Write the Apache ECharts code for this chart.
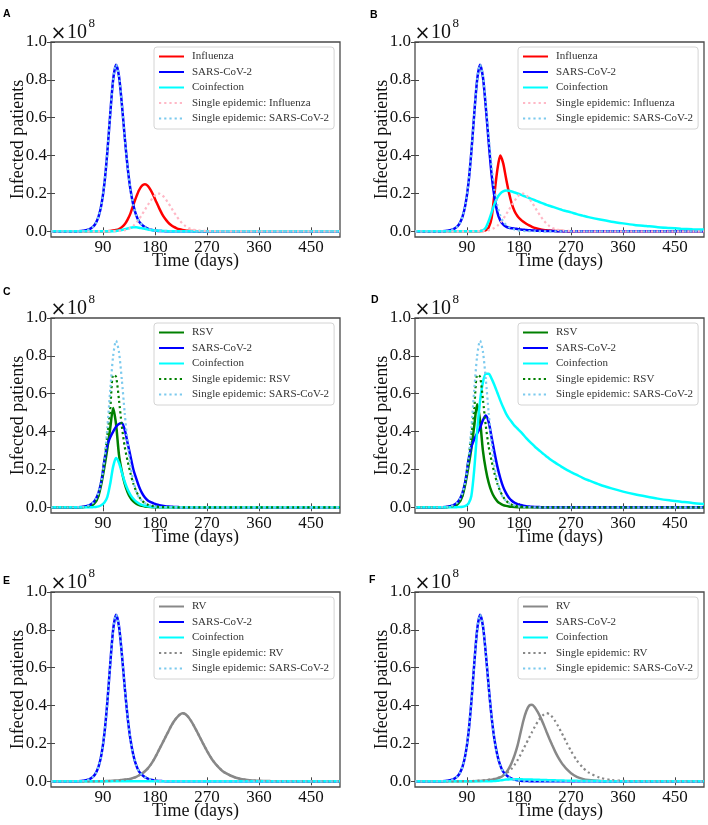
<!DOCTYPE html>
<html>
<head>
<meta charset="utf-8">
<script src="https://cdn.jsdelivr.net/npm/echarts@6/dist/echarts.min.js"></script>
<style>
html,body{margin:0;padding:0;background:#ffffff;}
#c{width:708px;height:825px;}
</style>
</head>
<body>
<div id="c"></div>
<script>
// ---- time grid (days) ----
const days = [0, 10, 20, 30, 40,
  47.5, 52.5, 57.5, 62.5, 67.5, 72.5, 77.5, 82.5, 87.5, 92.5,
  97.5, 102.5, 107.5, 112.5, 117.5, 122.5,
  127.5, 132.5, 137.5, 142.5, 147.5, 152.5, 157.5, 162.5, 167.5, 172.5,
  177.5, 182.5, 187.5, 192.5, 197.5, 202.5, 207.5, 212.5, 217.5, 222.5,
  227.5, 232.5, 237.5, 242.5, 247.5, 252.5, 257.5, 262.5,
  270, 280, 290, 300,
  320, 340, 360, 380, 400, 420, 440, 460, 480, 500];

const xTicks = [90, 180, 270, 360, 450];
const yTicks = [0, 0.2, 0.4, 0.6, 0.8, 1.0];
const panelLetters = ['A', 'B', 'C', 'D', 'E', 'F'];

// ---- series values (x 10^8 infected patients) ----
const sarsSingle = [0, 0, 0.0001, 0.0002, 0.0005,
  0.001, 0.002, 0.004, 0.007, 0.013, 0.023, 0.043, 0.08, 0.145, 0.255,
  0.42, 0.62, 0.80, 0.88, 0.822, 0.675,
  0.499, 0.341, 0.22, 0.1375, 0.084, 0.051, 0.034, 0.022, 0.014, 0.009,
  0.0055, 0.0035, 0.002, 0.0013, 0.0008, 0.0005, 0.0003, 0.0002, 0.0001, 0,
  0, 0, 0, 0, 0, 0, 0, 0,
  0, 0, 0, 0,
  0, 0, 0, 0, 0, 0, 0, 0, 0, 0];

const fluA = [0, 0, 0, 0, 0,
  0, 0, 0, 0, 0, 0, 0, 0, 0, 0.0005,
  0.001, 0.002, 0.004, 0.007, 0.012, 0.022,
  0.037, 0.062, 0.095, 0.14, 0.182, 0.218, 0.241, 0.248, 0.24, 0.218,
  0.188, 0.153, 0.12, 0.09, 0.066, 0.047, 0.033, 0.023, 0.016, 0.011,
  0.0075, 0.005, 0.0034, 0.0023, 0.0015, 0.001, 0.0007, 0.0005,
  0.0003, 0.0001, 0, 0,
  0, 0, 0, 0, 0, 0, 0, 0, 0, 0];

const coinfA = [0, 0, 0, 0, 0,
  0, 0, 0, 0, 0, 0, 0, 0, 0, 0,
  0, 0.0005, 0.001, 0.002, 0.004, 0.007,
  0.011, 0.015, 0.019, 0.021, 0.021, 0.019, 0.016, 0.013, 0.01, 0.0075,
  0.0055, 0.004, 0.003, 0.002, 0.0015, 0.001, 0.0008, 0.0006, 0.0004, 0.0003,
  0.0002, 0.0001, 0, 0, 0, 0, 0, 0,
  0, 0, 0, 0,
  0, 0, 0, 0, 0, 0, 0, 0, 0, 0];

const fluSingle = [0, 0, 0, 0, 0,
  0, 0, 0, 0, 0, 0, 0, 0, 0, 0,
  0.0002, 0.0004, 0.0008, 0.0013, 0.002, 0.0035,
  0.006, 0.011, 0.018, 0.029, 0.045, 0.065, 0.089, 0.114, 0.139, 0.162,
  0.182, 0.198, 0.199, 0.19, 0.174, 0.152, 0.127, 0.102, 0.079, 0.058,
  0.041, 0.028, 0.018, 0.012, 0.008, 0.0055, 0.0037, 0.0025,
  0.0014, 0.0006, 0.0002, 0.0001,
  0, 0, 0, 0, 0, 0, 0, 0, 0, 0];

const fluB = [0, 0, 0, 0, 0,
  0, 0, 0, 0, 0, 0, 0, 0, 0, 0,
  0, 0.0003, 0.0005, 0.001, 0.002, 0.006,
  0.02, 0.07, 0.2, 0.325, 0.4, 0.36, 0.28, 0.205, 0.145, 0.105,
  0.08, 0.063, 0.05, 0.04, 0.031, 0.024, 0.018, 0.014, 0.01, 0.0075,
  0.0055, 0.004, 0.003, 0.0022, 0.0016, 0.0012, 0.0009, 0.0007,
  0.0004, 0.0002, 0.0001, 0,
  0, 0, 0, 0, 0, 0, 0, 0, 0, 0];

const sarsB = [0, 0, 0.0001, 0.0002, 0.0005,
  0.001, 0.002, 0.004, 0.007, 0.013, 0.023, 0.043, 0.08, 0.145, 0.255,
  0.42, 0.62, 0.80, 0.88, 0.815, 0.655,
  0.47, 0.30, 0.18, 0.10, 0.058, 0.036, 0.025, 0.019, 0.016, 0.014,
  0.012, 0.01, 0.0085, 0.007, 0.006, 0.005, 0.004, 0.0033, 0.0027, 0.0022,
  0.0018, 0.0015, 0.0012, 0.001, 0.0008, 0.0007, 0.0006, 0.0005,
  0.0004, 0.0003, 0.0002, 0.0001,
  0, 0, 0, 0, 0, 0, 0, 0, 0, 0];

const coinfB = [0, 0, 0, 0, 0,
  0, 0, 0, 0, 0, 0, 0, 0, 0, 0,
  0, 0, 0, 0.001, 0.005, 0.02,
  0.055, 0.1, 0.145, 0.178, 0.199, 0.211, 0.215, 0.214, 0.21, 0.205,
  0.2, 0.194, 0.188, 0.182, 0.176, 0.17, 0.164, 0.158, 0.152, 0.146,
  0.14, 0.135, 0.13, 0.125, 0.12, 0.115, 0.11, 0.106,
  0.1, 0.091, 0.083, 0.075,
  0.062, 0.051, 0.042, 0.034, 0.028, 0.022, 0.018, 0.014, 0.011, 0.009];

const rsvC = [0, 0, 0, 0.0001, 0.0002,
  0.0005, 0.001, 0.002, 0.004, 0.008, 0.014, 0.03, 0.065, 0.13, 0.215,
  0.31, 0.42, 0.525, 0.44, 0.28, 0.19,
  0.125, 0.08, 0.05, 0.031, 0.019, 0.012, 0.0075, 0.0045, 0.0028, 0.0017,
  0.001, 0.0006, 0.0004, 0.0002, 0.0001, 0, 0, 0, 0, 0,
  0, 0, 0, 0, 0, 0, 0, 0,
  0, 0, 0, 0,
  0, 0, 0, 0, 0, 0, 0, 0, 0, 0];

const sarsC = [0, 0, 0.0001, 0.0002, 0.0005,
  0.001, 0.002, 0.004, 0.007, 0.013, 0.023, 0.043, 0.08, 0.145, 0.25,
  0.33, 0.37, 0.40, 0.425, 0.44, 0.445,
  0.41, 0.34, 0.27, 0.2, 0.152, 0.108, 0.075, 0.052, 0.036, 0.027,
  0.021, 0.015, 0.011, 0.008, 0.0058, 0.0042, 0.003, 0.0021, 0.0015, 0.001,
  0.0007, 0.0005, 0.0003, 0.0002, 0.0001, 0, 0, 0,
  0, 0, 0, 0,
  0, 0, 0, 0, 0, 0, 0, 0, 0, 0];

const coinfC = [0, 0, 0, 0, 0,
  0, 0, 0, 0, 0.0005, 0.001, 0.002, 0.005, 0.012, 0.025,
  0.055, 0.125, 0.215, 0.26, 0.235, 0.185,
  0.135, 0.095, 0.066, 0.045, 0.03, 0.02, 0.013, 0.0085, 0.0055, 0.0035,
  0.0022, 0.0014, 0.0009, 0.0005, 0.0003, 0.0002, 0.0001, 0, 0, 0,
  0, 0, 0, 0, 0, 0, 0, 0,
  0, 0, 0, 0,
  0, 0, 0, 0, 0, 0, 0, 0, 0, 0];

const rsvSingle = [0, 0, 0, 0.0001, 0.0002,
  0.0005, 0.001, 0.002, 0.004, 0.008, 0.015, 0.03, 0.065, 0.14, 0.25,
  0.38, 0.52, 0.70, 0.69, 0.57, 0.43,
  0.32, 0.245, 0.18, 0.125, 0.085, 0.055, 0.035, 0.022, 0.014, 0.009,
  0.0055, 0.0035, 0.002, 0.0013, 0.0008, 0.0005, 0.0003, 0.0002, 0.0001, 0,
  0, 0, 0, 0, 0, 0, 0, 0,
  0, 0, 0, 0,
  0, 0, 0, 0, 0, 0, 0, 0, 0, 0];

const rsvD = [0, 0, 0, 0.0001, 0.0002,
  0.0005, 0.001, 0.002, 0.004, 0.008, 0.014, 0.03, 0.065, 0.13, 0.215,
  0.31, 0.43, 0.545, 0.46, 0.30, 0.20,
  0.13, 0.083, 0.052, 0.032, 0.02, 0.012, 0.0075, 0.0045, 0.0028, 0.0017,
  0.001, 0.0006, 0.0004, 0.0002, 0.0001, 0, 0, 0, 0, 0,
  0, 0, 0, 0, 0, 0, 0, 0,
  0, 0, 0, 0,
  0, 0, 0, 0, 0, 0, 0, 0, 0, 0];

const sarsD = [0, 0, 0.0001, 0.0002, 0.0005,
  0.001, 0.002, 0.004, 0.007, 0.013, 0.023, 0.043, 0.08, 0.145, 0.25,
  0.32, 0.36, 0.39, 0.42, 0.46, 0.485,
  0.45, 0.37, 0.29, 0.215, 0.155, 0.108, 0.075, 0.051, 0.035, 0.024,
  0.017, 0.012, 0.0085, 0.006, 0.0043, 0.003, 0.0021, 0.0015, 0.001, 0.0007,
  0.0005, 0.0003, 0.0002, 0.0001, 0, 0, 0, 0,
  0, 0, 0, 0,
  0, 0, 0, 0, 0, 0, 0, 0, 0, 0];

const coinfD = [0, 0, 0, 0, 0,
  0, 0, 0, 0, 0.0005, 0.001, 0.0015, 0.003, 0.008, 0.02,
  0.06, 0.2, 0.4, 0.56, 0.66, 0.705,
  0.705, 0.68, 0.645, 0.605, 0.565, 0.528, 0.495, 0.47, 0.45, 0.43,
  0.415, 0.40, 0.383, 0.366, 0.35, 0.335, 0.32, 0.307, 0.294, 0.281,
  0.269, 0.257, 0.246, 0.236, 0.226, 0.216, 0.207, 0.198,
  0.186, 0.171, 0.156, 0.143,
  0.119, 0.1, 0.083, 0.069, 0.057, 0.046, 0.037, 0.03, 0.023, 0.018];

const rvE = [0, 0, 0, 0, 0,
  0, 0, 0, 0, 0, 0, 0.0003, 0.0005, 0.0008, 0.001,
  0.0015, 0.002, 0.003, 0.004, 0.005, 0.007,
  0.009, 0.011, 0.013, 0.018, 0.024, 0.032, 0.041, 0.053, 0.068, 0.088,
  0.112, 0.14, 0.17, 0.2, 0.23, 0.26, 0.29, 0.316, 0.336, 0.352,
  0.36, 0.355, 0.34, 0.318, 0.292, 0.263, 0.233, 0.203,
  0.16, 0.11, 0.074, 0.047,
  0.019, 0.007, 0.0025, 0.001, 0.0004, 0.0002, 0.0001, 0, 0, 0];

const coinfE = [0, 0, 0, 0, 0,
  0, 0, 0, 0, 0, 0, 0, 0, 0, 0,
  0, 0, 0, 0, 0, 0,
  0, 0, 0, 0, 0, 0, 0, 0, 0, 0,
  0, 0, 0, 0, 0, 0, 0, 0, 0, 0,
  0, 0, 0, 0, 0, 0, 0, 0,
  0, 0, 0, 0,
  0, 0, 0, 0, 0, 0, 0, 0, 0, 0];

const rvF = [0, 0, 0, 0, 0,
  0, 0, 0, 0, 0, 0, 0, 0.0003, 0.0005, 0.0008,
  0.001, 0.001, 0.0015, 0.002, 0.003, 0.004,
  0.006, 0.008, 0.011, 0.015, 0.021, 0.03, 0.045, 0.068, 0.1, 0.14,
  0.19, 0.255, 0.32, 0.37, 0.4, 0.405, 0.39, 0.365, 0.335, 0.3,
  0.262, 0.225, 0.19, 0.157, 0.128, 0.103, 0.082, 0.064,
  0.043, 0.024, 0.013, 0.007,
  0.002, 0.0006, 0.0002, 0.0001, 0, 0, 0, 0, 0, 0];

const coinfF = [0, 0, 0, 0, 0,
  0, 0, 0, 0, 0, 0, 0, 0, 0, 0,
  0, 0, 0, 0, 0, 0.0005,
  0.0008, 0.001, 0.002, 0.003, 0.005, 0.007, 0.009, 0.01, 0.011, 0.011,
  0.011, 0.011, 0.01, 0.01, 0.0095, 0.009, 0.0085, 0.008, 0.0075, 0.007,
  0.0065, 0.006, 0.0055, 0.005, 0.0045, 0.004, 0.0037, 0.0034,
  0.003, 0.0025, 0.002, 0.0017,
  0.0012, 0.0008, 0.0005, 0.0003, 0.0002, 0.0001, 0, 0, 0, 0];

// ---- styles ----
const COLORS = {
  red: '#ff0000', blue: '#0000ff', cyan: '#00ffff', pink: '#ffb8c6',
  sky: '#7ccaee', green: '#008000', gray: '#888888'
};
const SERIF = '"Liberation Serif", "Times New Roman", serif';

// ---- panel definitions: [legend name, data, colour key, dotted?] ----
const panels = [
  [['Influenza', fluA, 'red', false], ['SARS-CoV-2', sarsSingle, 'blue', false], ['Coinfection', coinfA, 'cyan', false],
   ['Single epidemic: Influenza', fluSingle, 'pink', true], ['Single epidemic: SARS-CoV-2', sarsSingle, 'sky', true]],
  [['Influenza', fluB, 'red', false], ['SARS-CoV-2', sarsB, 'blue', false], ['Coinfection', coinfB, 'cyan', false],
   ['Single epidemic: Influenza', fluSingle, 'pink', true], ['Single epidemic: SARS-CoV-2', sarsSingle, 'sky', true]],
  [['RSV', rsvC, 'green', false], ['SARS-CoV-2', sarsC, 'blue', false], ['Coinfection', coinfC, 'cyan', false],
   ['Single epidemic: RSV', rsvSingle, 'green', true], ['Single epidemic: SARS-CoV-2', sarsSingle, 'sky', true]],
  [['RSV', rsvD, 'green', false], ['SARS-CoV-2', sarsD, 'blue', false], ['Coinfection', coinfD, 'cyan', false],
   ['Single epidemic: RSV', rsvSingle, 'green', true], ['Single epidemic: SARS-CoV-2', sarsSingle, 'sky', true]],
  [['RV', rvE, 'gray', false], ['SARS-CoV-2', sarsSingle, 'blue', false], ['Coinfection', coinfE, 'cyan', false],
   ['Single epidemic: RV', rvE, 'gray', true], ['Single epidemic: SARS-CoV-2', sarsSingle, 'sky', true]],
  [['RV', rvF, 'gray', false], ['SARS-CoV-2', sarsSingle, 'blue', false], ['Coinfection', coinfF, 'cyan', false],
   ['Single epidemic: RV', rvE, 'gray', true], ['Single epidemic: SARS-CoV-2', sarsSingle, 'sky', true]]
];

// ---- layout ----
const gridLefts = [51, 415];
const gridTops = [42, 318, 592];
const GW = 289, GH = 195;
const letterPos = [[3, 8.5], [370, 9.5], [3, 287], [371, 295], [3, 575.5], [369, 574.5]];

const chart = echarts.init(document.getElementById('c'), null, {renderer: 'canvas', width: 708, height: 825});
const grids = [], xAxes = [], yAxes = [], series = [], legends = [], graphics = [];

const tickStyle = {show: true, inside: true, length: 4, lineStyle: {color: '#444', width: 1}};

panels.forEach((lines, i) => {
  const L = gridLefts[i % 2], T = gridTops[Math.floor(i / 2)];
  grids.push({left: L, top: T, width: GW, height: GH, show: true, borderColor: '#4a4a4a', borderWidth: 1.3,
    backgroundColor: 'rgba(0,0,0,0)', containLabel: false, outerBoundsMode: 'none'});

  xAxes.push({gridIndex: i, type: 'value', min: 0, max: 500, position: 'bottom',
    axisLine: {show: false}, splitLine: {show: false},
    axisTick: Object.assign({customValues: xTicks}, tickStyle),
    axisLabel: {customValues: xTicks, margin: 2, fontFamily: SERIF, fontSize: 17, color: '#111'},
    name: 'Time (days)', nameLocation: 'middle', nameGap: 15, nameMoveOverlap: false,
    nameTextStyle: {fontFamily: SERIF, fontSize: 18, color: '#111'}});
  xAxes.push({gridIndex: i, type: 'value', min: 0, max: 500, position: 'top',
    axisLine: {show: false}, splitLine: {show: false},
    axisTick: Object.assign({customValues: xTicks}, tickStyle), axisLabel: {show: false}});

  yAxes.push({gridIndex: i, type: 'value', min: -0.03, max: 1.0, position: 'left',
    axisLine: {show: false}, splitLine: {show: false},
    axisTick: Object.assign({customValues: yTicks}, tickStyle),
    axisLabel: {customValues: yTicks, margin: 4, fontFamily: SERIF, fontSize: 17, color: '#111',
      formatter: v => Number(v).toFixed(1)},
    name: 'Infected patients', nameLocation: 'middle', nameGap: 23.5, nameRotate: 90, nameMoveOverlap: false,
    nameTextStyle: {fontFamily: SERIF, fontSize: 18, color: '#111'}});
  yAxes.push({gridIndex: i, type: 'value', min: -0.03, max: 1.0, position: 'right',
    axisLine: {show: false}, splitLine: {show: false},
    axisTick: Object.assign({customValues: yTicks}, tickStyle), axisLabel: {show: false}});

  lines.forEach(([name, vals, ck, dotted]) => {
    series.push({
      type: 'line', name: name, xAxisIndex: 2 * i, yAxisIndex: 2 * i,
      data: days.map((d, k) => [d, vals[k]]),
      symbol: 'none', showSymbol: false, smooth: 0.25, animation: false,
      emphasis: {disabled: true},
      itemStyle: {color: COLORS[ck]},
      lineStyle: dotted ? {color: COLORS[ck], width: 2.2, type: [2.2, 3], cap: 'butt'}
                        : {color: COLORS[ck], width: 2.5, type: 'solid'}
    });
  });

  legends.push({
    orient: 'vertical', left: L + 103, top: T + 5,
    padding: [4, 5, 5, 4], itemWidth: 25, itemHeight: 11, itemGap: 4.5,
    backgroundColor: 'rgba(255,255,255,0.85)', borderColor: '#d4d4d4', borderWidth: 1, borderRadius: 3,
    selectedMode: false,
    itemStyle: {opacity: 0, borderWidth: 0},
    textStyle: {fontFamily: SERIF, fontSize: 11, color: '#333', padding: [0, 0, 0, 3]},
    data: lines.map(l => l[0])
  });

  // panel letter
  graphics.push({type: 'text', left: letterPos[i][0], top: letterPos[i][1],
    style: {text: panelLetters[i], font: 'bold 10.5px "Liberation Sans", Arial, sans-serif', fill: '#000'}});
  // offset text  x10^8
  graphics.push({type: 'text', left: L - 0.5, top: T - 17,
    style: {text: '×', font: '19px "DejaVu Sans", sans-serif', fill: '#111'}});
  graphics.push({type: 'text', left: L + 16, top: T - 19.5,
    style: {text: '10', font: '20px ' + SERIF, fill: '#111'}});
  graphics.push({type: 'text', left: L + 37.5, top: T - 24.5,
    style: {text: '8', font: '13px ' + SERIF, fill: '#111'}});
});

chart.setOption({
  animation: false,
  backgroundColor: '#ffffff',
  grid: grids, xAxis: xAxes, yAxis: yAxes,
  series: series, legend: legends, graphic: graphics
});
</script>
</body>
</html>
